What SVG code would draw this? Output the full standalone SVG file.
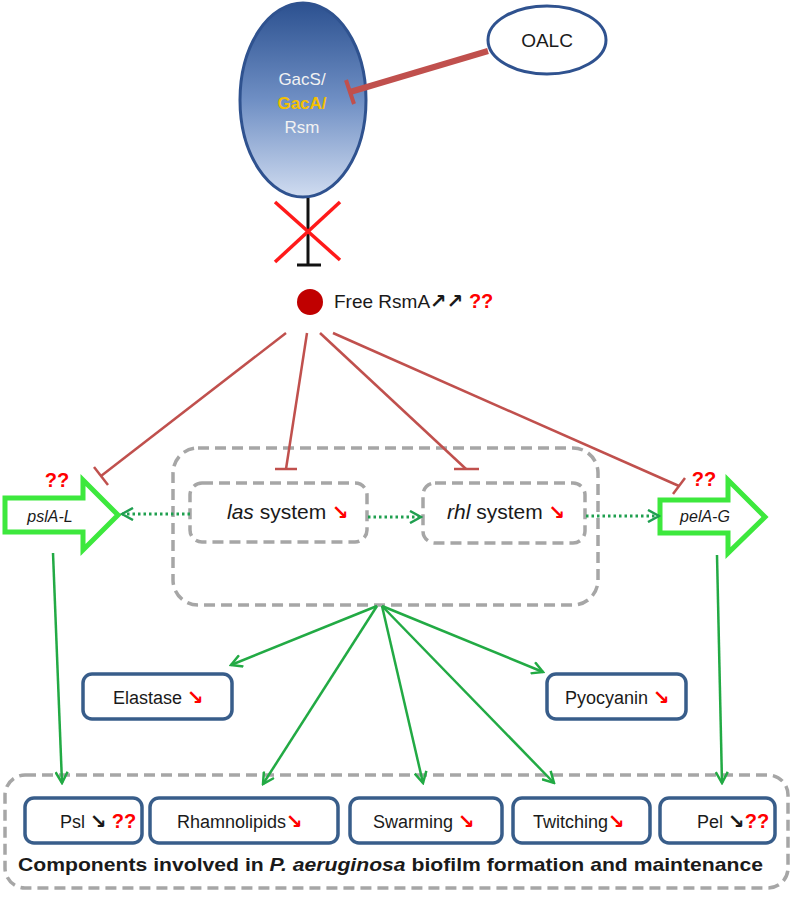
<svg xmlns="http://www.w3.org/2000/svg" width="797" height="897" viewBox="0 0 797 897">
<defs>
<linearGradient id="gac" x1="0" y1="0" x2="0" y2="1">
<stop offset="0" stop-color="#2c5190"/>
<stop offset="0.5" stop-color="#6f8fc4"/>
<stop offset="1" stop-color="#d0dcf0"/>
</linearGradient>
<marker id="ga" viewBox="0 0 14 14" refX="12" refY="7" markerWidth="14" markerHeight="14" markerUnits="userSpaceOnUse" orient="auto">
<path d="M1,1 L12,7 L1,13" fill="none" stroke="#22aa44" stroke-width="2.5"/>
</marker>
<marker id="gd" viewBox="0 0 14 14" refX="12" refY="7" markerWidth="14" markerHeight="14" markerUnits="userSpaceOnUse" orient="auto">
<path d="M1,1 L12,7 L1,13" fill="none" stroke="#1f9f4f" stroke-width="2.5"/>
</marker>
</defs>
<style>
text{font-family:"Liberation Sans","DejaVu Sans",sans-serif;fill:#1a1a1a}
.box{fill:#fff;stroke:#385d8a;stroke-width:3.5}
.dash{fill:none;stroke:#a6a6a6;stroke-width:3.5;stroke-dasharray:11 6}
.inh{stroke:#c0504d;stroke-width:2.5;fill:none}
.g{stroke:#22aa44;stroke-width:2.5;fill:none;marker-end:url(#ga)}
.dot{stroke:#1f9f4f;stroke-width:3;fill:none;stroke-dasharray:2.5 3;marker-end:url(#gd)}
.blk{fill:#fff;stroke:#3de83d;stroke-width:5}
.lbl{font-size:18px}
.dn{fill:#ff0000;font-weight:bold;font-family:"DejaVu Sans",sans-serif;font-size:20px}
.bk{font-weight:bold;font-family:"DejaVu Sans",sans-serif;font-size:20px}
.q{fill:#ff0000;font-weight:bold;font-size:20px}
</style>
<g id="gacs">
<ellipse cx="303" cy="100" rx="63" ry="97" fill="url(#gac)" stroke="#2f528f" stroke-width="3"/>
<text x="302" y="85" text-anchor="middle" font-size="17" style="fill:#f2f2f2">GacS/</text>
<text x="302" y="109" text-anchor="middle" font-size="17" font-weight="bold" style="fill:#f5c000">GacA/</text>
<text x="302" y="133" text-anchor="middle" font-size="17" style="fill:#f2f2f2">Rsm</text>
</g>
<g id="oalc">
<ellipse cx="547" cy="40" rx="59" ry="34" fill="#fff" stroke="#2f528f" stroke-width="3"/>
<text x="547" y="47" text-anchor="middle" font-size="19">OALC</text>
</g>
<g id="rsma">
<circle cx="310" cy="302" r="13" fill="#c00000"/>
<text x="334" y="308" font-size="19">Free RsmA<tspan class="bk" font-size="21">↗↗</tspan> <tspan class="q">??</tspan></text>
</g>
<g id="psl-gene">
<path class="blk" d="M5,498 L83,498 L83,480 L118,515 L83,550 L83,532 L5,532 Z"/>
<text x="50" y="522" text-anchor="middle" font-size="16" font-style="italic">pslA-L</text>
<text x="57" y="487" text-anchor="middle" class="q">??</text>
</g>
<g id="pel-gene">
<path class="blk" d="M660,500 L728,500 L728,480 L765,517 L728,553 L728,533 L660,533 Z"/>
<text x="705" y="522" text-anchor="middle" font-size="16" font-style="italic">pelA-G</text>
<text x="704" y="486" text-anchor="middle" class="q">??</text>
</g>
<g id="qs">
<rect class="dash" x="173" y="448" width="425" height="157" rx="25"/>
</g>
<g id="las">
<rect class="dash" x="190" y="483" width="177" height="59" rx="12"/>
<text x="227" y="519" font-size="21"><tspan font-style="italic">las</tspan> system <tspan class="dn" font-size="22">↘</tspan></text>
</g>
<g id="rhl">
<rect class="dash" x="423" y="483" width="162" height="60" rx="12"/>
<text x="447" y="519" font-size="21"><tspan font-style="italic">rhl</tspan> system <tspan class="dn" font-size="22">↘</tspan></text>
</g>
<g id="elastase">
<rect class="box" x="83" y="674" width="149" height="45" rx="9"/>
<text x="113" y="704" class="lbl">Elastase <tspan class="dn">↘</tspan></text>
</g>
<g id="pyocyanin">
<rect class="box" x="547" y="674" width="139" height="45" rx="9"/>
<text x="565" y="704" class="lbl">Pyocyanin <tspan class="dn">↘</tspan></text>
</g>
<g id="components">
<rect class="dash" x="5" y="775" width="783" height="113" rx="20"/>
<text x="18" y="871" font-size="19" font-weight="bold" textLength="745" lengthAdjust="spacingAndGlyphs">Components involved in <tspan font-style="italic">P. aeruginosa</tspan> biofilm formation and maintenance</text>
</g>
<g id="psl">
<rect class="box" x="25" y="798" width="117" height="45" rx="9"/>
<text x="60" y="828" class="lbl">Psl <tspan class="bk">↘</tspan> <tspan class="q">??</tspan></text>
</g>
<g id="rhamnolipids">
<rect class="box" x="150" y="798" width="188" height="45" rx="9"/>
<text x="177" y="828" class="lbl">Rhamnolipids<tspan class="dn">↘</tspan></text>
</g>
<g id="swarming">
<rect class="box" x="350" y="798" width="152" height="45" rx="9"/>
<text x="373" y="828" class="lbl">Swarming <tspan class="dn">↘</tspan></text>
</g>
<g id="twitching">
<rect class="box" x="513" y="798" width="137" height="45" rx="9"/>
<text x="533" y="828" class="lbl">Twitching<tspan class="dn">↘</tspan></text>
</g>
<g id="pel">
<rect class="box" x="660" y="798" width="115" height="45" rx="9"/>
<text x="697" y="828" class="lbl">Pel <tspan class="bk">↘</tspan><tspan class="q">??</tspan></text>
</g>
<g id="connectors">
<line x1="488" y1="51" x2="350" y2="92" stroke="#c0504d" stroke-width="6"/>
<line x1="346" y1="80" x2="354" y2="104" stroke="#c0504d" stroke-width="4"/>
<line x1="308" y1="198" x2="308" y2="265" stroke="#111" stroke-width="3"/>
<line x1="297" y1="265" x2="321" y2="265" stroke="#111" stroke-width="3"/>
<line x1="275" y1="202" x2="340" y2="260" stroke="#ff1a1a" stroke-width="3.5"/>
<line x1="340" y1="202" x2="275" y2="262" stroke="#ff1a1a" stroke-width="3.5"/>
<line class="inh" x1="286" y1="333" x2="101" y2="476"/>
<line class="inh" x1="94" y1="467" x2="108" y2="485"/>
<line class="inh" x1="307" y1="333" x2="286" y2="469"/>
<line class="inh" x1="275" y1="469" x2="297" y2="469"/>
<line class="inh" x1="320" y1="333" x2="466" y2="469"/>
<line class="inh" x1="454" y1="469" x2="479" y2="469"/>
<line class="inh" x1="333" y1="333" x2="679" y2="486"/>
<line class="inh" x1="685" y1="478" x2="673" y2="494"/>
<line class="dot" x1="190" y1="514" x2="122" y2="514"/>
<line class="dot" x1="368" y1="517" x2="421" y2="517"/>
<line class="dot" x1="586" y1="516" x2="659" y2="516"/>
<line class="g" x1="53" y1="553" x2="62" y2="783"/>
<line class="g" x1="717" y1="555" x2="722" y2="783"/>
<line class="g" x1="377" y1="606" x2="231" y2="665"/>
<line class="g" x1="377" y1="606" x2="263" y2="784"/>
<line class="g" x1="382" y1="606" x2="423" y2="783"/>
<line class="g" x1="382" y1="606" x2="554" y2="783"/>
<line class="g" x1="382" y1="606" x2="543" y2="672"/>
</g>
</svg>
